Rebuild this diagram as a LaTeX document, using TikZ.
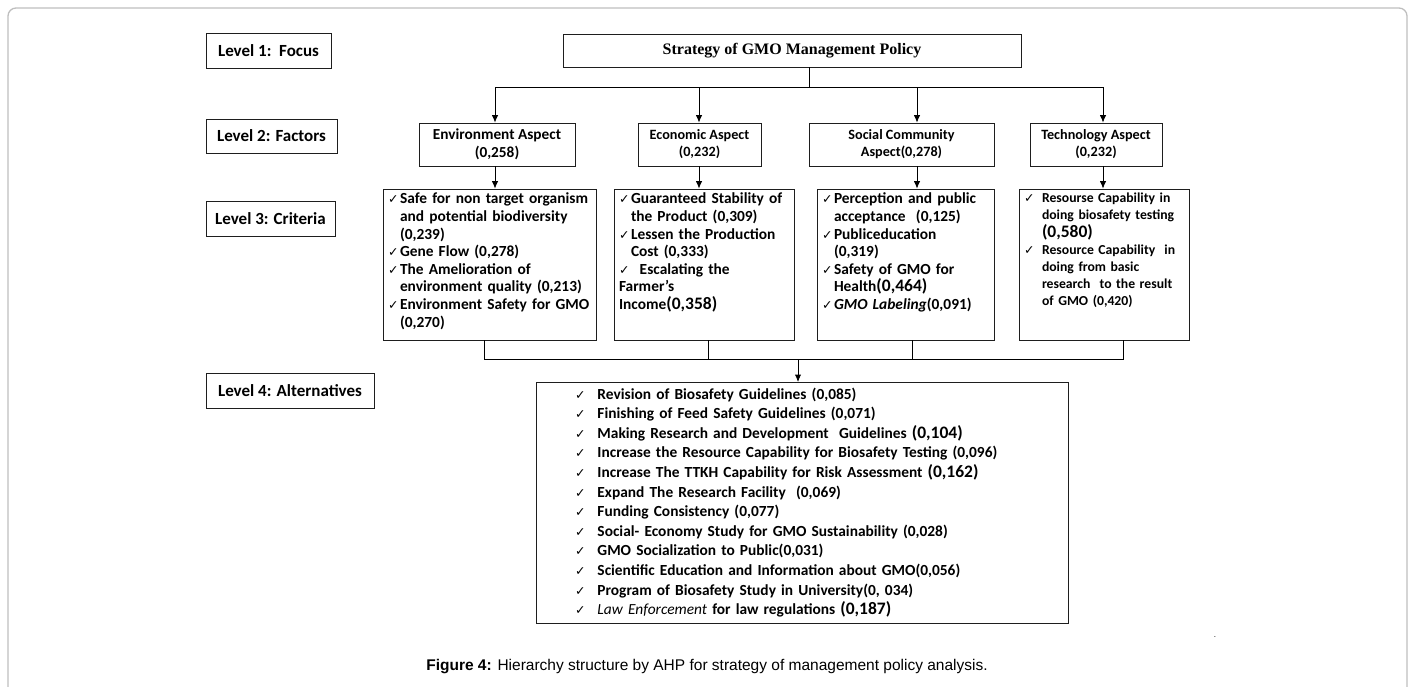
\documentclass[tikz,border=0pt]{standalone}
\usepackage{fontspec}
\setmainfont{Carlito}
\newfontfamily\timesfont{Liberation Serif}
\newfontfamily\arialfont{Liberation Sans}
\newfontfamily\symfont{DejaVu Sans}
\usepackage{xcolor}
\usetikzlibrary{arrows.meta, positioning, calc}
\definecolor{ink}{HTML}{1E1E1E}
\definecolor{framegray}{HTML}{BEBEBE}
\newcommand{\chk}{{\symfont\fontsize{12.5}{12}\selectfont ✓}}
\newcommand{\itm}[2][12pt]{\par\hangindent=#1\hangafter=1\noindent\makebox[#1][l]{\chk}#2}
\newcommand{\bnum}[1]{{\fontsize{17.5}{16}\selectfont #1}}
\newcommand{\critbody}[1]{\vbox to 143pt{#1\vfil}}

\begin{document}
\begin{tikzpicture}[x=1pt, y=-1pt,
  box/.style={draw=ink, line width=0.8pt, align=center, inner sep=3pt},
  lvl/.style={box, minimum height=35pt, font=\bfseries\fontsize{17}{18}\selectfont},
  fac/.style={box, minimum height=43pt, font=\bfseries\fontsize{14.2}{17}\selectfont},
  crit/.style={draw=ink, line width=0.8pt, align=left, inner xsep=5pt, inner ysep=4pt, font=\bfseries\fontsize{15.4}{17.6}\selectfont},
  >={Latex[length=2.6mm, width=2.2mm]}
]
\useasboundingbox (0,0) rectangle (1414,686);
\draw[framegray, line width=1.3pt, rounded corners=8pt] (8,700) -- (8,8) -- (1407,8) -- (1407,700);

% levels on the left
\node[lvl, minimum width=125pt] (lv1) at (268.5,51) {Level 1:\ \ Focus};
\node[lvl, minimum width=131pt, minimum height=34pt] (lv2) at (271.5,136) {Level 2: Factors};
\node[lvl, minimum width=129pt] (lv3) at (270.5,218.5) {Level 3: Criteria};
\node[lvl, minimum width=168pt] (lv4) at (290,391) {Level 4: Alternatives};

% focus and factors
\node[box, minimum width=458pt, minimum height=33pt, font=\timesfont\bfseries\fontsize{16}{18}\selectfont] (focus) at (792,50.5) {Strategy of GMO Management Policy};
\node[fac, minimum width=156pt, font=\bfseries\fontsize{15.3}{17.5}\selectfont] (envf) at (497,144.5) {Environment Aspect\\(0,258)};
\node[fac, minimum width=123pt] (ecof) at (699.5,144.5) {Economic Aspect\\(0,232)};
\node[fac, minimum width=185pt] (socf) at (901.5,144.5) {Social Community\\Aspect(0,278)};
\node[fac, minimum width=132pt] (tecf) at (1096,144.5) {Technology Aspect\\(0,232)};

% criteria
\node[crit, text width=203pt] (envc) at (489.5,264.5) {\critbody{%
  \itm{Safe for non target organism\newline and potential biodiversity\newline (0,239)}
  \itm{Gene Flow (0,278)}
  \itm{The Amelioration of\newline environment quality (0,213)}
  \itm{Environment Safety for GMO\newline (0,270)}}};
\node[crit, text width=170pt] (ecoc) at (704,264.5) {\critbody{%
  \itm{Guaranteed Stability of\newline the Product (0,309)}
  \itm{Lessen the Production\newline Cost (0,333)}
  \par\noindent\chk\ \ Escalating the\\Farmer’s\\Income\bnum{(0,358)}}};
\node[crit, text width=167pt] (socc) at (905.5,264.5) {\critbody{%
  \itm{Perception and public\newline acceptance\ \ (0,125)}
  \itm{Publiceducation\newline (0,319)}
  \itm{Safety of GMO for\newline Health\bnum{(0,464)}}
  \itm{\textit{GMO Labeling}(0,091)}}};
\node[crit, text width=160pt, font=\bfseries\fontsize{13.7}{17.2}\selectfont] (tecc) at (1104,264.5) {\critbody{%
  \itm[18pt]{Resourse Capability in\newline doing biosafety testing\newline \bnum{(0,580)}}
  \itm[18pt]{Resource Capability\ \ in\newline doing from basic\newline research\ \ to the result\newline of GMO (0,420)}}};

% alternatives
\node[box, align=left, text width=526pt, minimum height=240pt, font=\bfseries\fontsize{15.4}{19.6}\selectfont] (alt) at (802,503) {%
  \begin{tabular}{@{\hspace{36pt}}l@{\hspace{12pt}}l@{}}
  \chk & Revision of Biosafety Guidelines (0,085)\\
  \chk & Finishing of Feed Safety Guidelines (0,071)\\
  \chk & Making Research and Development\ \ Guidelines \bnum{(0,104)}\\
  \chk & Increase the Resource Capability for Biosafety Testing (0,096)\\
  \chk & Increase The TTKH Capability for Risk Assessment \bnum{(0,162)}\\
  \chk & Expand The Research Facility\ \ (0,069)\\
  \chk & Funding Consistency (0,077)\\
  \chk & Social- Economy Study for GMO Sustainability (0,028)\\
  \chk & GMO Socialization to Public(0,031)\\
  \chk & Scientific Education and Information about GMO(0,056)\\
  \chk & Program of Biosafety Study in University(0, 034)\\
  \chk & \textit{\mdseries Law Enforcement} for law regulations \bnum{(0,187)}
  \end{tabular}};

% connectors: focus to factors to criteria
\coordinate (top) at (809,87);
\coordinate (tE) at (495,87);
\coordinate (tC) at (699,87);
\coordinate (tS) at (917,87);
\coordinate (tT) at (1103,87);
\draw[line width=0.8pt] (focus.south -| top) -- (top);
\draw[line width=0.8pt] (tE) -- (tT);
\draw[->, line width=0.8pt] (tE) -- (tE |- envf.north);
\draw[->, line width=0.8pt] (tC) -- (tC |- ecof.north);
\draw[->, line width=0.8pt] (tS) -- (tS |- socf.north);
\draw[->, line width=0.8pt] (tT) -- (tT |- tecf.north);
\draw[->, line width=0.8pt] (tE |- envf.south) -- (tE |- envc.north);
\draw[->, line width=0.8pt] (tC |- ecof.south) -- (tC |- ecoc.north);
\draw[->, line width=0.8pt] (tS |- socf.south) -- (tS |- socc.north);
\draw[->, line width=0.8pt] (tT |- tecf.south) -- (tT |- tecc.north);

% criteria join into alternatives
\coordinate (bE) at (484,359);
\coordinate (bC) at (708,359);
\coordinate (bS) at (912,359);
\coordinate (bT) at (1123,359);
\coordinate (jn) at (798,359);
\draw[line width=0.8pt] (envc.south -| bE) -- (bE) -- (bT) -- (tecc.south -| bT);
\draw[line width=0.8pt] (ecoc.south -| bC) -- (bC);
\draw[line width=0.8pt] (socc.south -| bS) -- (bS);
\draw[->, line width=0.8pt] (jn) -- (jn |- alt.north);

\node[font=\arialfont\fontsize{8}{9}\selectfont] (dot) at (1215,637) {.};
\node[font=\arialfont\fontsize{15.5}{17}\selectfont] (cap) at (707,667) {\textbf{Figure 4:} Hierarchy structure by AHP for strategy of management policy analysis.};
\end{tikzpicture}
\end{document}
